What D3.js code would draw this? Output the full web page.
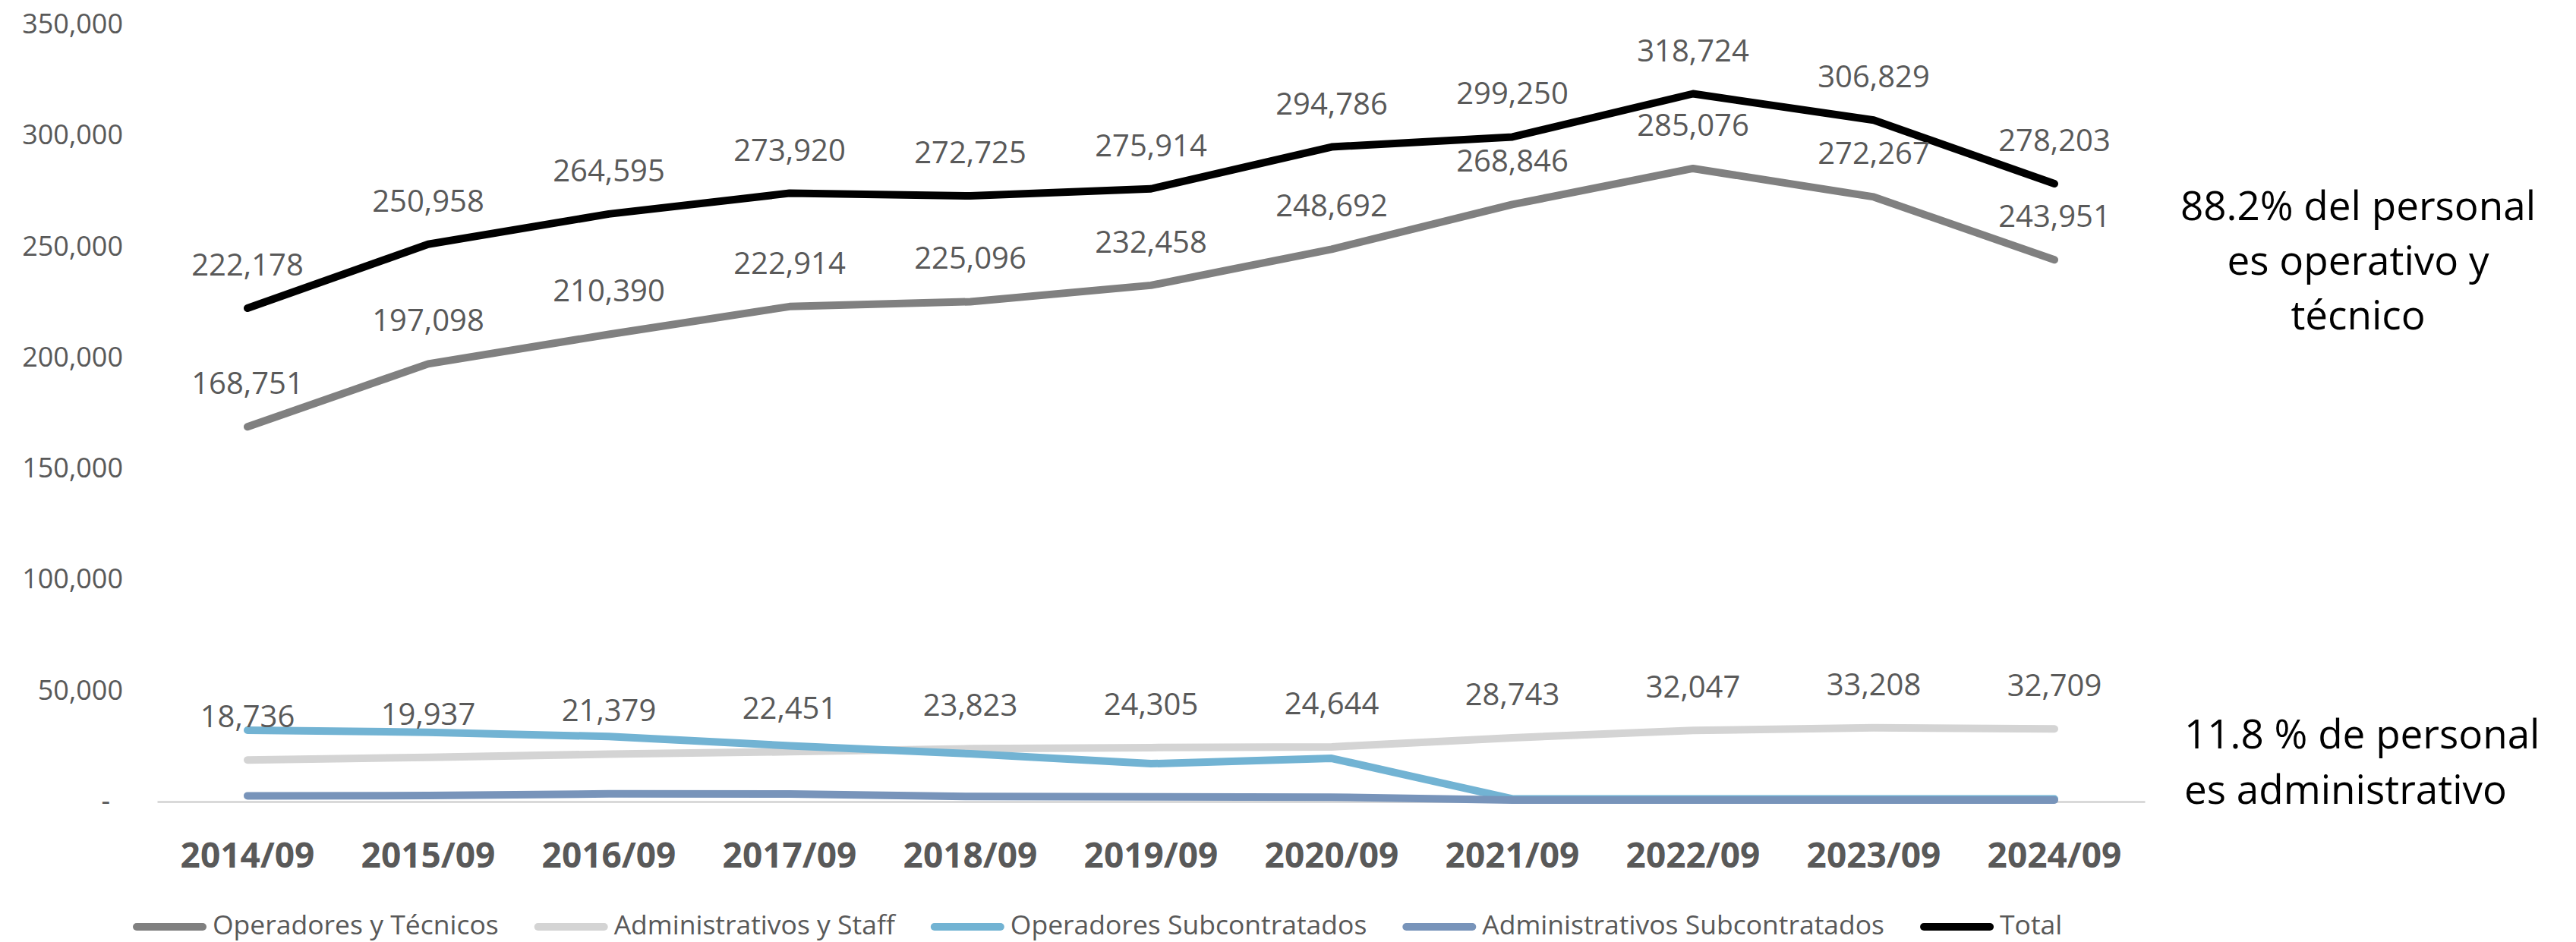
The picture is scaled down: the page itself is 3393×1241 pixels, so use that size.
<!DOCTYPE html>
<html lang="en">
    <head>
        <meta charset="utf-8">
        <title>Personal por tipo</title>
        <style>
          body {
            margin: 0;
            background: white;
          }
          svg text {
            font-family: "Open Sans", "Noto Sans", sans-serif;
          }
          .tick-label {
            font-size: 36px;
            fill: #595959;
          }
          .cat-label {
            font-size: 46px;
            font-weight: bold;
            fill: #595959;
          }
          .data-label {
            font-size: 40px;
            fill: #595959;
            text-anchor: middle;
          }
          .legend text {
            font-size: 35.5px;
            fill: #595959;
          }
          .note {
            font-size: 53px;
            fill: black;
          }
          .serie {
            fill: none;
            stroke-width: 10px;
            stroke-linecap: round;
            stroke-linejoin: round;
          }
        </style>
        <script src="https://cdn.jsdelivr.net/npm/d3@7"></script>
    </head>
    <body>
        <script type="text/javascript">
          var w=3393;
          var h=1241;

          // datos
          var categories=["2014/09","2015/09","2016/09","2017/09","2018/09","2019/09","2020/09","2021/09","2022/09","2023/09","2024/09"];
          var operadores=[168751,197098,210390,222914,225096,232458,248692,268846,285076,272267,243951];
          var administrativos=[18736,19937,21379,22451,23823,24305,24644,28743,32047,33208,32709];
          var operadoresSub=[32100,31200,29300,25150,21500,17050,19450,1200,1200,1200,1200];
          var administrativosSub=[2600,2700,3500,3400,2300,2100,2000,700,700,700,700];
          var total=[222178,250958,264595,273920,272725,275914,294786,299250,318724,306829,278203];
          var yTicks=[0,50000,100000,150000,200000,250000,300000,350000];

          var seriesNames=["Operadores y Técnicos","Administrativos y Staff","Operadores Subcontratados","Administrativos Subcontratados","Total"];
          var seriesColors=["#808080","#d4d4d4","#72b3d3","#7894ba","#000000"];
          var seriesValues=[operadores,administrativos,operadoresSub,administrativosSub,total];
          var withLabels=[true,true,false,false,true];

          var svg=d3.select("body").append("svg")
            .attr('width',w)
            .attr('height',h);

          svg.append("rect")
            .attr("width",w)
            .attr("height",h)
            .attr("fill","white");

          var x=d3.scaleBand()
            .domain(categories)
            .range([207,2825])
            .padding(0);

          var y=d3.scaleLinear()
            .domain([0,350000])
            .range([1056,32]);

          function cx(c){ return x(c)+x.bandwidth()/2; }

          // eje y (sin linea)
          var fmt=d3.format(",");
          var yAxis=svg.append("g")
            .attr("transform","translate(162,0)")
            .call(d3.axisLeft(y).tickValues(yTicks).tickSize(0).tickPadding(0)
              .tickFormat(function(d){ return d==0 ? "-" : fmt(d); }));
          yAxis.select(".domain").remove();
          yAxis.selectAll("text")
            .attr("class","tick-label")
            .attr("font-size",null)
            .attr("font-family",null)
            .attr("fill",null)
            .attr("dx",function(d){ return d==0 ? -17 : 0; });

          // eje x
          var xAxis=svg.append("g")
            .attr("transform","translate(0,1056)")
            .call(d3.axisBottom(x).tickSize(0).tickPadding(54));
          xAxis.select(".domain")
            .attr("stroke","#d9d9d9")
            .attr("stroke-width",3);
          xAxis.selectAll("text")
            .attr("class","cat-label")
            .attr("font-size",null)
            .attr("font-family",null)
            .attr("fill",null);

          // lineas
          var line=d3.line()
            .x(function(d,i){ return cx(categories[i]); })
            .y(function(d){ return y(d); });

          seriesValues.forEach(function(vals,k){
            svg.append("path")
              .datum(vals)
              .attr("class","serie")
              .attr("stroke",seriesColors[k])
              .attr("d",line);
          });

          // etiquetas de datos
          seriesValues.forEach(function(vals,k){
            if (!withLabels[k]) { return; }
            svg.append("g").selectAll("text")
              .data(vals)
              .enter().append("text")
              .attr("class","data-label")
              .attr("x",function(d,i){ return cx(categories[i]); })
              .attr("y",function(d){ return y(d)-43; })
              .text(function(d){ return fmt(d); });
          });

          // leyenda
          var legend=svg.append("g").attr("class","legend");
          var lx=175;
          var ly=1221;
          seriesNames.forEach(function(name,k){
            legend.append("line")
              .attr("x1",lx+5).attr("x2",lx+92)
              .attr("y1",ly).attr("y2",ly)
              .attr("stroke",seriesColors[k])
              .attr("stroke-width",10)
              .attr("stroke-linecap","round");
            var t=legend.append("text")
              .attr("x",lx+105)
              .attr("y",ly+10)
              .text(name);
            lx=lx+105+t.node().getComputedTextLength()+47;
          });

          // notas
          var note1=["88.2% del personal","es operativo y","técnico"];
          svg.append("g").selectAll("text")
            .data(note1)
            .enter().append("text")
            .attr("class","note")
            .attr("text-anchor","middle")
            .attr("x",3106)
            .attr("y",function(d,i){ return 290+i*72; })
            .text(function(d){ return d; });

          var note2=["11.8 % de personal","es administrativo"];
          svg.append("g").selectAll("text")
            .data(note2)
            .enter().append("text")
            .attr("class","note")
            .attr("x",2877)
            .attr("y",function(d,i){ return 986+i*73; })
            .text(function(d){ return d; });
        </script>
    </body>
</html>
